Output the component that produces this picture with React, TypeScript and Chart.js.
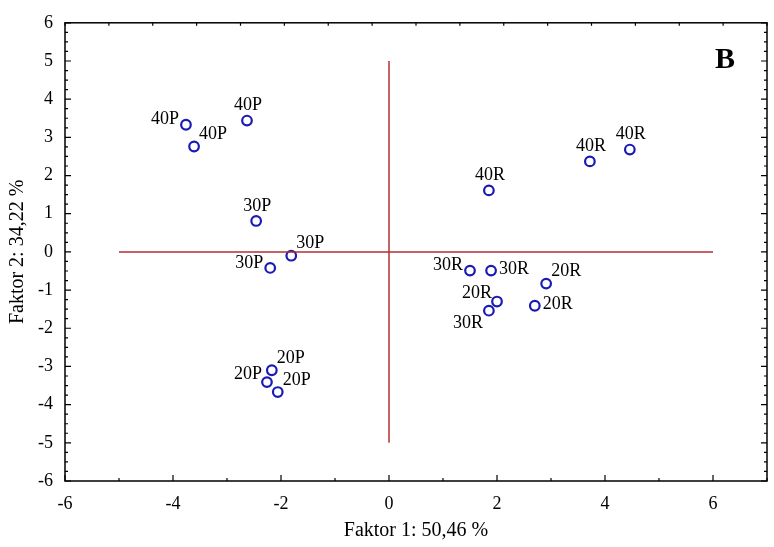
import React, { useEffect, useRef } from "react";
import { Chart, registerables } from "chart.js";
Chart.register(...registerables);

const labels = ["40P","40P","40P","30P","30P","30P","20P","20P","20P","40R","40R","40R","30R","30R","20R","20R","20R","30R"];
const factor1 = [-3.76,-3.61,-2.63,-2.46,-1.81,-2.20,-2.17,-2.26,-2.06,1.85,3.72,4.46,1.50,1.89,2.91,2.00,2.70,1.85];
const factor2 = [3.33,2.76,3.44,0.81,-0.10,-0.42,-3.10,-3.41,-3.67,1.61,2.37,2.68,-0.49,-0.49,-0.83,-1.30,-1.41,-1.54];
const labelPlacement = ["l","tr","t","t","tr","l","tr","tl","tr","t","t","t","l","r","tr","tl","r","bl"];
const xTicks = [-6,-4,-2,0,2,4,6];
const yTicks = [-6,-5,-4,-3,-2,-1,0,1,2,3,4,5,6];
const hLine = { x: [-5, 6], y: [0, 0] };
const vLine = { x: [0, 0], y: [-5, 5] };
const xTitle = "Faktor 1: 50,46 %";
const yTitle = "Faktor 2: 34,22 %";
const panelLabel = "B";

const SERIF = "'Liberation Serif', 'DejaVu Serif', serif";

const decorPlugin = {
  id: "decor",
  afterDatasetsDraw(chart: any) {
    const { ctx, chartArea: a, scales } = chart;
    const xs = scales.x, ys = scales.y;
    ctx.save();
    ctx.strokeStyle = "#000";
    ctx.lineWidth = 1.5;
    ctx.strokeRect(a.left, a.top, a.right - a.left, a.bottom - a.top);
    ctx.lineWidth = 1.2;
    ctx.beginPath();
    for (let v = -6; v <= 7; v += 1) {
      const px = xs.getPixelForValue(v);
      const len = v % 2 === 0 ? 6 : 3;
      ctx.moveTo(px, a.bottom); ctx.lineTo(px, a.bottom - len);
    }
    for (let v = -6; v <= 6; v += 0.25) {
      const py = ys.getPixelForValue(v);
      const len = Math.abs(v - Math.round(v)) < 1e-6 ? 6 : 3;
      ctx.moveTo(a.left, py); ctx.lineTo(a.left + len, py);
      ctx.moveTo(a.right, py); ctx.lineTo(a.right - len, py);
    }
    for (let i = 0; i <= 16; i++) {
      const px = a.left + ((a.right - a.left) * i) / 16;
      ctx.moveTo(px, a.top); ctx.lineTo(px, a.top + 3);
    }
    ctx.stroke();

    ctx.fillStyle = "#000";
    ctx.font = `18px ${SERIF}`;
    const meta = chart.getDatasetMeta(2);
    meta.data.forEach((el: any, i: number) => {
      const x = el.x, y = el.y;
      const p = labelPlacement[i];
      let tx = x, ty = y, align: CanvasTextAlign = "center";
      ctx.textBaseline = "middle";
      if (p === "l") { tx = x - 7; ty = y - 5; align = "right"; }
      else if (p === "r") { tx = x + 8; ty = y - 1; align = "left"; }
      else if (p === "t") { tx = x + 1; ty = y - 15; align = "center"; }
      else if (p === "tr") { tx = x + 5; ty = y - 12; align = "left"; }
      else if (p === "tl") { tx = x - 5; ty = y - 8; align = "right"; }
      else if (p === "bl") { tx = x - 6; ty = y + 13; align = "right"; }
      ctx.textAlign = align;
      ctx.fillText(labels[i], tx, ty);
    });

    ctx.font = `bold 30px ${SERIF}`;
    ctx.textAlign = "center";
    ctx.textBaseline = "middle";
    ctx.fillText(panelLabel, 725, 60);

    ctx.font = `20px ${SERIF}`;
    ctx.fillText(xTitle, (a.left + a.right) / 2, 531);
    ctx.translate(18, (a.top + a.bottom) / 2);
    ctx.rotate(-Math.PI / 2);
    ctx.fillText(yTitle, 0, 0);
    ctx.restore();
  },
};

export default function App() {
  const ref = useRef<HTMLCanvasElement | null>(null);
  useEffect(() => {
    if (!ref.current) return;
    const red = "#b03030";
    const chart = new Chart(ref.current, {
      type: "scatter",
      data: {
        datasets: [
          {
            type: "line",
            data: hLine.x.map((x, i) => ({ x, y: hLine.y[i] })),
            borderColor: red,
            borderWidth: 1.5,
            pointRadius: 0,
            fill: false,
          },
          {
            type: "line",
            data: vLine.x.map((x, i) => ({ x, y: vLine.y[i] })),
            borderColor: red,
            borderWidth: 1.5,
            pointRadius: 0,
            fill: false,
          },
          {
            data: factor1.map((x, i) => ({ x, y: factor2[i] })),
            pointStyle: "circle",
            pointRadius: 4.8,
            pointBorderWidth: 2.2,
            pointBorderColor: "#1a1ab4",
            pointBackgroundColor: "rgba(255,255,255,0)",
          },
        ],
      },
      options: {
        animation: false,
        responsive: false,
        maintainAspectRatio: false,
        layout: { padding: { top: 20, right: 4, left: 0, bottom: 0 } },
        plugins: { legend: { display: false }, tooltip: { enabled: false } },
        scales: {
          x: {
            type: "linear",
            min: -6,
            max: 7,
            grid: { display: false, drawTicks: false },
            border: { display: false },
            afterBuildTicks: (axis: any) => { axis.ticks = xTicks.map((v) => ({ value: v })); },
            afterFit: (axis: any) => { axis.height = 66; },
            ticks: { color: "#000", padding: 12, font: { family: SERIF, size: 18 }, maxRotation: 0 },
          },
          y: {
            type: "linear",
            min: -6,
            max: 6,
            grid: { display: false, drawTicks: false },
            border: { display: false },
            afterBuildTicks: (axis: any) => { axis.ticks = yTicks.map((v) => ({ value: v })); },
            afterFit: (axis: any) => { axis.width = 65; },
            ticks: { color: "#000", padding: 12, font: { family: SERIF, size: 18 } },
          },
        },
      },
      plugins: [decorPlugin],
    } as any);
    return () => chart.destroy();
  }, []);
  return (
    <div style={{ position: "fixed", left: 0, top: 0, width: 774, height: 547, background: "#fff" }}>
      <canvas ref={ref} width={774} height={547} style={{ width: 774, height: 547 }} />
    </div>
  );
}
